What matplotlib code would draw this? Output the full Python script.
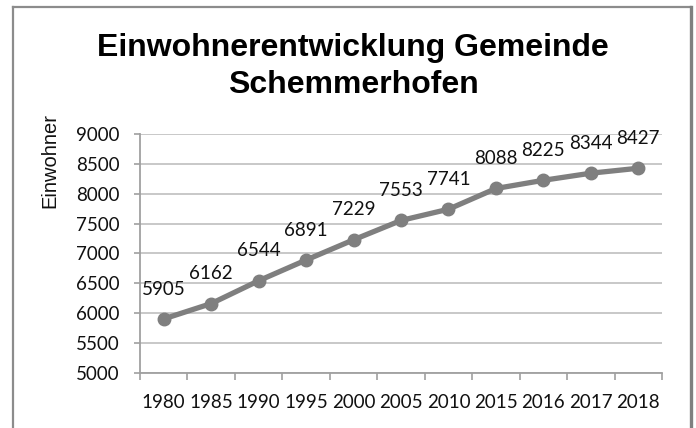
import matplotlib
matplotlib.use("Agg")
import matplotlib.pyplot as plt
from matplotlib.lines import Line2D

years = ["1980", "1985", "1990", "1995", "2000", "2005", "2010", "2015", "2016", "2017", "2018"]
einwohner = [5905, 6162, 6544, 6891, 7229, 7553, 7741, 8088, 8225, 8344, 8427]
yticks = [5000, 5500, 6000, 6500, 7000, 7500, 8000, 8500, 9000]

W, H = 696, 428
fig = plt.figure(figsize=(W / 100, H / 100), dpi=100)
fig.patch.set_facecolor("white")

ax = fig.add_axes([140 / W, 1 - 373 / H, (662 - 140) / W, (373 - 134) / H])

x = list(range(len(years)))
line_col = "#7f7f7f"
ax.plot(x, einwohner, color=line_col, lw=3.8, marker="o", ms=9, solid_capstyle="round",
        markerfacecolor=line_col, markeredgecolor=line_col, zorder=3, clip_on=False)

num_font = "Lato"
txt_col = "#111111"
fs = 13.5
for xi, v in zip(x, einwohner):
    ax.annotate(str(v), (xi, v), xytext=(0, 21.5), textcoords="offset points",
                ha="center", va="center", fontsize=fs, family=num_font, color=txt_col)

ax.set_xlim(-0.5, len(years) - 0.5)
ax.set_ylim(5000, 9000)
ax.set_yticks(yticks)
ax.set_yticklabels([str(t) for t in yticks], family=num_font, fontsize=fs, color=txt_col)
ax.set_xticks(x)
ax.set_xticklabels(years, family=num_font, fontsize=fs, color=txt_col)
ax.set_xticks([i - 0.5 for i in range(len(years) + 1)], minor=True)

ax.tick_params(axis="x", which="major", length=0, pad=15)
ax.tick_params(axis="x", which="minor", length=5, color="#a0a0a0", width=1.2, direction="out")
ax.tick_params(axis="y", which="major", length=4, color="#a0a0a0", width=1.2, pad=10.5)

ax.grid(axis="y", color="#c4c4c4", lw=1.3)
ax.set_axisbelow(True)
for s in ["top", "right"]:
    ax.spines[s].set_visible(False)
for s in ["left", "bottom"]:
    ax.spines[s].set_color("#a0a0a0")
    ax.spines[s].set_linewidth(1.3)

fig.text(50 / W, 1 - 161 / H, "Einwohner", rotation=90, ha="center", va="center",
         family="Liberation Sans", fontsize=14.5, color=txt_col)

fig.text(353 / W, 1 - 48 / H, "Einwohnerentwicklung Gemeinde",
         ha="center", va="center", family="Liberation Sans", fontweight="bold", fontsize=23)
fig.text(353 / W, 1 - 85 / H, "Schemmerhofen",
         ha="center", va="center", family="Liberation Sans", fontweight="bold", fontsize=23)

# outer frame
fc = "#8c8c8c"
fig.add_artist(Line2D([13 / W, 13 / W], [0, 1 - 7 / H], transform=fig.transFigure, color=fc, lw=1.6))
fig.add_artist(Line2D([13 / W, 691 / W], [1 - 7 / H, 1 - 7 / H], transform=fig.transFigure, color=fc, lw=1.6))
fig.add_artist(Line2D([691 / W, 691 / W], [0, 1 - 7 / H], transform=fig.transFigure, color="#808080", lw=2.4))

fig.savefig("out.png", dpi=100)
